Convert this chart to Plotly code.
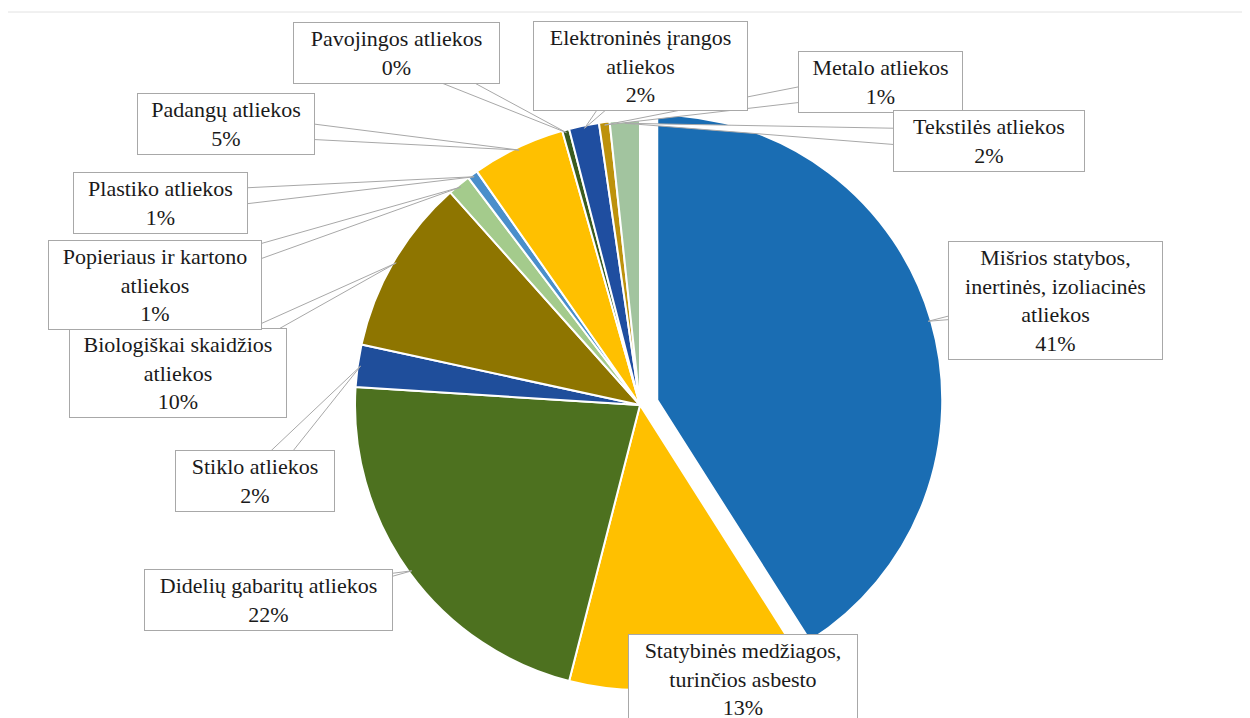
import math
import plotly.graph_objects as go

# ---- data ----
categories = [
    "Mišrios statybos,<br>inertinės, izoliacinės<br>atliekos",
    "Statybinės medžiagos,<br>turinčios asbesto",
    "Didelių gabaritų atliekos",
    "Stiklo atliekos",
    "Biologiškai skaidžios<br>atliekos",
    "Popieriaus ir kartono<br>atliekos",
    "Plastiko atliekos",
    "Padangų atliekos",
    "Pavojingos atliekos",
    "Elektroninės įrangos<br>atliekos",
    "Metalo atliekos",
    "Tekstilės atliekos",
]
values = [41.0, 13.0, 22.0, 2.4, 10.0, 1.3, 0.6, 5.3, 0.4, 1.7, 0.6, 1.7]
colors = ["#1A6DB3", "#FFC000", "#4D711F", "#1F4E9B", "#8E7500", "#A4CB8C",
          "#4A8FCB", "#FFC000", "#3A5C1E", "#1F4EA0", "#BD920C", "#A2C49F"]
pulls = [0.063, 0, 0, 0, 0, 0, 0, 0, 0, 0, 0, 0]

# ---- layout constants (page pixels) ----
W, H = 1250, 718
OFF = 8  # page body margin offset
CX, CY, R = 640, 405, 285
box_cx = [1055, 743, 268, 255, 178, 155, 160, 226, 396, 640, 880, 989]
box_cy = [300, 679, 600, 481, 373, 285, 203, 124, 53, 66, 82, 141]
box_w = [215, 230, 249, 160, 218, 214, 175, 178, 207, 215, 165, 192]
FONT = "'Liberation Serif', 'DejaVu Serif', serif"


def px2paper(x, y):
    return (x - OFF) / W, 1 - (y - OFF) / H


maxpull = max(pulls)
half = R * (1 + maxpull)
x0, y1 = px2paper(CX - half, CY - half)
x1, y0 = px2paper(CX + half, CY + half)

fig = go.Figure(go.Pie(
    labels=[c.replace("<br>", " ") for c in categories],
    values=values,
    sort=False,
    direction="clockwise",
    rotation=0,
    pull=pulls,
    marker=dict(colors=colors, line=dict(color="white", width=2)),
    textinfo="none",
    hoverinfo="label+percent",
    domain=dict(x=[x0, x1], y=[y0, y1]),
    showlegend=False,
))

total = sum(values)
cum = 0.0
shapes = []
annotations = []
for i, v in enumerate(values):
    mid = math.radians(360 * (cum + v / 2) / total)
    cum += v
    ox = pulls[i] * R * math.sin(mid)
    oy = -pulls[i] * R * math.cos(mid)
    tx = CX + ox + 0.99 * R * math.sin(mid)
    ty = CY + oy - 0.99 * R * math.cos(mid)
    bx, by = box_cx[i], box_cy[i]
    dx, dy = bx - tx, by - ty
    L = math.hypot(dx, dy)
    nx, ny = -dy / L, dx / L
    hw = 11
    p1 = px2paper(bx + nx * hw, by + ny * hw)
    p2 = px2paper(bx - nx * hw, by - ny * hw)
    pt = px2paper(tx, ty)
    path = f"M {p1[0]},{p1[1]} L {pt[0]},{pt[1]} L {p2[0]},{p2[1]} Z"
    shapes.append(dict(type="path", xref="paper", yref="paper", path=path,
                       fillcolor="white", line=dict(color="#a8a8a8", width=1),
                       layer="above"))
    bxp, byp = px2paper(bx, by)
    annotations.append(dict(
        x=bxp, y=byp, xref="paper", yref="paper", showarrow=False,
        text=f"{categories[i]}<br>{round(v)}%",
        font=dict(family=FONT, size=22, color="#1a1a1a"),
        bgcolor="white", bordercolor="#a8a8a8", borderwidth=1, borderpad=3,
        width=box_w[i] - 8, align="center", xanchor="center", yanchor="middle",
    ))

# faint frame lines of the original chart area
fx0, fy0 = px2paper(7, 12)
fx1, _ = px2paper(1250, 12)
_, fyb = px2paper(7, 718)
shapes.append(dict(type="line", xref="paper", yref="paper",
                   x0=fx0, x1=fx1, y0=fy0, y1=fy0,
                   line=dict(color="#e2e2e2", width=1)))
shapes.append(dict(type="line", xref="paper", yref="paper",
                   x0=fx0, x1=fx0, y0=fyb, y1=fy0,
                   line=dict(color="#d0d0d0", width=1.5)))

fig.update_layout(
    width=W, height=H,
    margin=dict(l=0, r=0, t=0, b=0),
    paper_bgcolor="white", plot_bgcolor="white",
    font=dict(family=FONT),
    shapes=shapes, annotations=annotations,
)

fig.write_html("out.html")
